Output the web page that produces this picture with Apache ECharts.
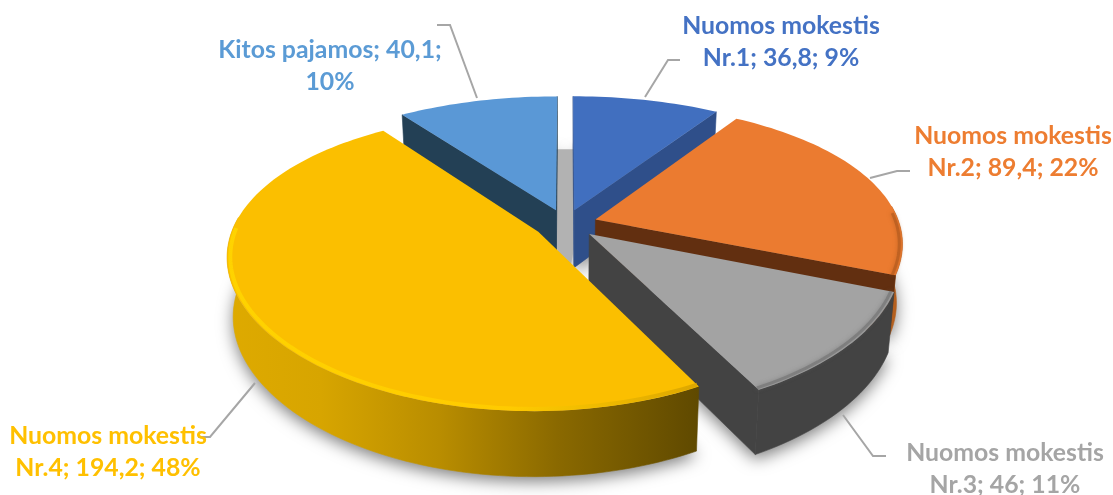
<!DOCTYPE html>
<html>
<head>
<meta charset="utf-8">
<style>html,body{margin:0;padding:0;background:#fff}#c{width:1113px;height:495px}</style>
<script src="https://cdn.jsdelivr.net/npm/echarts@6/dist/echarts.min.js"></script>
</head>
<body>
<div id="c"></div>
<script>
var categories = ['Nuomos mokestis Nr.1', 'Nuomos mokestis Nr.2', 'Nuomos mokestis Nr.3', 'Nuomos mokestis Nr.4', 'Kitos pajamos'];
var values = [36.8, 89.4, 46, 194.2, 40.1];
var percents = [9, 22, 11, 48, 10];
var labelBreaks = ['Nuomos mokestis\nNr.1; ', 'Nuomos mokestis\nNr.2; ', 'Nuomos mokestis\nNr.3; ', 'Nuomos mokestis\nNr.4; ', 'Kitos pajamos; '];

// styling
var topColors = ['#416FBF', '#EB7B30', '#A3A3A3', '#FBBF00', '#5A98D6'];
var textColors = ['#4472C4', '#ED7D31', '#A5A5A5', '#FFC000', '#5B9BD5'];
var cutColors = ['#2F4F8A', '#622F10', '#434343', '#7A5C00', '#234055'];
var rimColors = ['#2F4F8A', '#B5601F', '#434343', null, '#234055'];
var bevelColors = [null, '#A9561C', '#6E6E6E', '#FFD500', null];
var drawOrder = [4, 0, 1, 2, 3];
// layout
var labelPos = [[781, 10], [1013, 120], [1005, 437], [108, 420], [330, 34]];
var leaders = [
  [[645, 97], [668, 60], [680, 60]],
  [[870, 178], [897, 171], [910, 171]],
  [[843, 415], [873, 456], [886, 456]],
  [[255, 383], [210, 437], [198, 437]],
  [[477, 98], [450, 25], [437, 25]]
];
var cx = 565.5, cy = 224, rx = 304, ry = 141, persp = 0.195, thick = 58, explode = 0.104, shrink = 0.018;

var total = values.reduce(function (a, b) { return a + b; }, 0);
var starts = [], acc = 0;
values.forEach(function (v) { starts.push(acc / total * Math.PI * 2); acc += v; });

function project(X, Y, lvl) {
  var s = 1 / (1 - persp * Y);
  var sx = Math.pow(s, 0.8), sh = 1 + (s - 1) * 0.5;
  return [cx + rx * X * sx * (1 - shrink * lvl), cy + ry * Y * s + thick * lvl * sh];
}
function rimPoint(i, ang, lvl, R) {
  var a0 = starts[i], a1 = a0 + values[i] / total * Math.PI * 2, m = (a0 + a1) / 2;
  return project(explode * Math.sin(m) + R * Math.sin(ang), -explode * Math.cos(m) - R * Math.cos(ang), lvl);
}
function tipPoint(i, lvl) {
  var a0 = starts[i], a1 = a0 + values[i] / total * Math.PI * 2, m = (a0 + a1) / 2;
  return project(explode * Math.sin(m), -explode * Math.cos(m), lvl);
}
function arc(i, lvl, R) {
  var a0 = starts[i], a1 = a0 + values[i] / total * Math.PI * 2, n = Math.max(12, Math.round((a1 - a0) * 40)), pts = [];
  for (var k = 0; k <= n; k++) pts.push(rimPoint(i, a0 + (a1 - a0) * k / n, lvl, R));
  return pts;
}
function poly(points, style, z2) {
  return { type: 'polygon', shape: { points: points }, style: style, z2: z2, silent: true };
}
function cross(o, a, b) { return (a[0] - o[0]) * (b[1] - o[1]) - (a[1] - o[1]) * (b[0] - o[0]); }

function renderItem(params, api) {
  var i = api.value(0), order = drawOrder.indexOf(i), base = 10 + order * 10, kids = [];
  var top = arc(i, 0, 1), bottom = arc(i, 1, 1), tip = tipPoint(i, 0), tipB = tipPoint(i, 1);
  var mid = top[Math.floor(top.length / 2)];

  // ground shadow
  kids.push(poly([tipB].concat(bottom), {
    fill: '#B4B4B4', shadowBlur: 16, shadowColor: 'rgba(0,0,0,0.5)', shadowOffsetY: 5
  }, 1));
  // floor seen through the gap at the back
  if (i === 0) {
    kids.push(poly([project(0, 0.1, 1), project(-0.1, -1.1, 1), project(0.1, -1.1, 1)], { fill: '#B2B2B2' }, 2));
  }

  // rim wall: only the samples that look outward
  var front = [];
  for (var k = 0; k < top.length; k++) {
    var ang = starts[i] + (values[i] / total * Math.PI * 2) * k / (top.length - 1);
    if (Math.cos(ang) < 0.12) front.push(k);
  }
  if (front.length > 1) {
    var t = front.map(function (k) { return top[k]; });
    var b = front.map(function (k) { return bottom[k]; }).reverse();
    var fill = rimColors[i];
    if (!fill) {
      fill = new echarts.graphic.LinearGradient(0, 0, 1, 0, [
        { offset: 0, color: '#DEAA00' }, { offset: 0.2, color: '#D7A500' },
        { offset: 0.45, color: '#B98D00' }, { offset: 0.7, color: '#8A6900' }, { offset: 1, color: '#5F4900' }
      ]);
    }
    kids.push(poly(t.concat(b), { fill: fill, stroke: fill, lineWidth: 0.6 }, base));
  }
  // cut walls, only those facing the viewer
  [[top[0], bottom[0]], [top[top.length - 1], bottom[bottom.length - 1]]].forEach(function (e) {
    var down = [tip[0], tip[1] + 10];
    var s1 = cross(tip, e[0], down), s2 = cross(tip, e[0], mid);
    if (s1 * s2 < 0) kids.push(poly([tip, e[0], e[1], tipB], { fill: cutColors[i], stroke: cutColors[i], lineWidth: 0.6 }, base + 1));
  });
  // top face
  kids.push(poly([tip].concat(top), { fill: topColors[i] }, base + 2));
  // bevel along the front of the rim
  if (bevelColors[i]) {
    var bev = arc(i, 0, 0.99).filter(function (p, k) {
      var ang = starts[i] + (values[i] / total * Math.PI * 2) * k / (top.length - 1);
      return Math.cos(ang) < 0.05;
    });
    var stroke = i === 3 ? new echarts.graphic.LinearGradient(0, 0, 1, 0, [
      { offset: 0, color: '#FFD500' }, { offset: 0.6, color: '#FFCC00' }, { offset: 1, color: '#D9A400' }
    ]) : bevelColors[i];
    kids.push({
      type: 'polyline', shape: { points: bev }, silent: true, z2: base + 3,
      style: {
        fill: null, stroke: stroke, lineWidth: i === 3 ? 4 : 3, opacity: i === 3 ? 0.9 : 0.55,
        lineJoin: 'round', shadowBlur: i === 3 ? 0 : 4, shadowColor: bevelColors[i]
      }
    });
  }
  // leader and label
  kids.push({
    type: 'polyline', shape: { points: leaders[i] }, silent: true, z2: 100,
    style: { fill: null, stroke: '#A6A6A6', lineWidth: 2 }
  });
  var valueText = String(values[i]).replace('.', ',');
  var text = labelBreaks[i] + valueText + ';' + (i === 4 ? '\n' : ' ') + percents[i] + '%';
  kids.push({
    type: 'text', silent: true, z2: 101, x: labelPos[i][0], y: labelPos[i][1],
    style: {
      text: text, fill: textColors[i], align: 'center', verticalAlign: 'top',
      font: 'bold 24.8px Lato', lineHeight: 32
    }
  });
  return { type: 'group', children: kids };
}

var chart = echarts.init(document.getElementById('c'), null, { renderer: 'canvas' });
chart.setOption({
  animation: false,
  backgroundColor: '#ffffff',
  series: [{
    type: 'custom',
    coordinateSystem: 'none',
    renderItem: renderItem,
    data: drawOrder.map(function (i) { return { name: categories[i], value: [i, values[i]] }; })
  }]
});
</script>
</body>
</html>
